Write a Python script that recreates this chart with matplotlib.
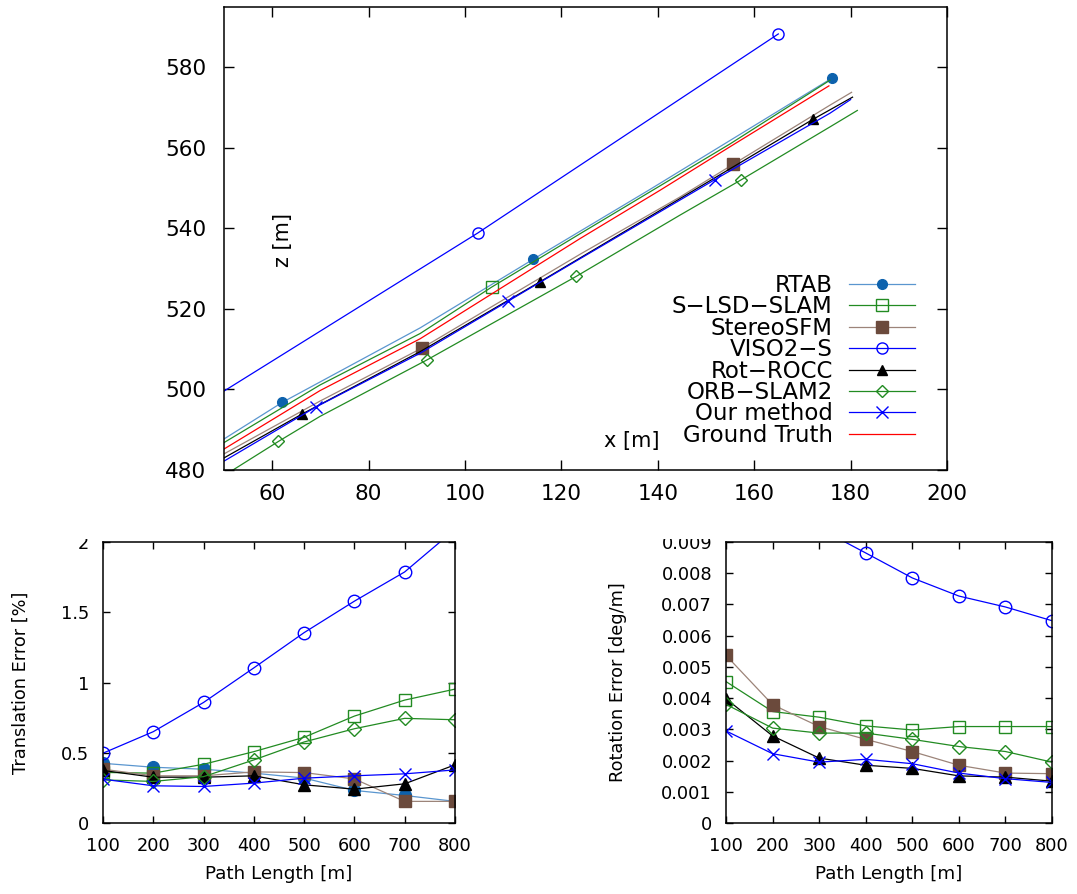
import matplotlib
matplotlib.use("Agg")
from matplotlib import pyplot as plt
from matplotlib.transforms import Bbox, TransformedBbox


FIGURE_SIZE = [10.77, 8.94]
DPI = 100
FONT = "DejaVu Sans"
LINE_WIDTH = 0.9
CLIP_TOP_PX = 539  # bottom panels look cropped just above their frame


# Data #########################################################################

LABELS = ["RTAB", "S−LSD−SLAM", "StereoSFM", "VISO2−S",
          "Rot−ROCC", "ORB−SLAM2", "Our method", "Ground Truth"]

# trajectories (top view), x [m] / z [m]
RTAB_X = [50, 62.1, 90.7, 114.1, 138.4, 176.1]
RTAB_Z = [487.7, 496.8, 515.3, 532.3, 549.7, 577.3]
SLSD_X = [50, 69.9, 90.7, 105.5, 123.9, 155.0, 175.7]
SLSD_Z = [486.8, 501.1, 513.9, 525.4, 538.7, 561.0, 576.8]
SSFM_X = [50, 69.9, 91.1, 123.9, 144.6, 155.6, 175.7, 180.2]
SSFM_Z = [484.0, 497.1, 510.3, 533.6, 547.8, 555.9, 570.6, 573.8]
VISO_X = [50, 102.7, 165.0]
VISO_Z = [499.6, 538.9, 588.3]
ROCC_X = [50, 66.2, 90.7, 115.5, 144.6, 172.2, 180.4]
ROCC_Z = [483.0, 493.9, 509.4, 526.7, 547.4, 567.1, 572.6]
ORB_X = [50, 61.3, 69.9, 92.2, 123.1, 144.6, 157.2, 175.7, 181.4]
ORB_Z = [478.6, 487.1, 493.3, 507.4, 528.1, 543.3, 552.0, 565.2, 569.3]
OURS_X = [50, 69.0, 90.7, 108.9, 123.9, 151.8, 175.7, 180.0]
OURS_Z = [482.2, 495.6, 509.0, 521.9, 532.5, 552.1, 568.6, 572.0]
GT_X = [50, 69.9, 90.7, 123.9, 140.5, 155.0, 175.5]
GT_Z = [485.2, 499.7, 512.6, 537.5, 549.5, 560.3, 575.4]

# errors over path length
PATH_LENGTH = [100, 200, 300, 400, 500, 600, 700, 800]

TRANS_RTAB = [0.425, 0.397, 0.383, 0.355, 0.320, 0.232, 0.196, 0.154]
TRANS_SLSD = [0.360, 0.355, 0.418, 0.508, 0.610, 0.761, 0.875, 0.953]
TRANS_SSFM = [0.383, 0.336, 0.336, 0.364, 0.359, 0.314, 0.154, 0.154]
TRANS_VISO = [0.497, 0.650, 0.858, 1.104, 1.355, 1.579, 1.787, 2.090]
TRANS_ROCC = [0.374, 0.326, 0.326, 0.336, 0.272, 0.241, 0.279, 0.414]
TRANS_ORB = [0.307, 0.296, 0.330, 0.449, 0.577, 0.671, 0.745, 0.735]
TRANS_OURS = [0.312, 0.265, 0.260, 0.284, 0.319, 0.336, 0.350, 0.378]

ROT_SLSD = [0.00453, 0.00357, 0.00339, 0.00311, 0.00298, 0.00309, 0.00309, 0.00309]
ROT_SSFM = [0.00537, 0.00379, 0.00309, 0.00268, 0.00229, 0.00185, 0.00160, 0.00158]
ROT_VISO = [0.0120, 0.0105, 0.00944, 0.00865, 0.00785, 0.00727, 0.00692, 0.00648]
ROT_ROCC = [0.00398, 0.00279, 0.00208, 0.00185, 0.00175, 0.00151, 0.00147, 0.00134]
ROT_ORB = [0.00380, 0.00304, 0.00288, 0.00288, 0.00268, 0.00245, 0.00229, 0.00195]
ROT_OURS = [0.00295, 0.00222, 0.00195, 0.00204, 0.00190, 0.00160, 0.00142, 0.00130]


# Styles #######################################################################

# label: (line color, marker, marker face, marker edge, top size, bottom size)
STYLES = {
    "RTAB":         ("#5a96cf", "o", "#0d62ad", "#0d62ad", 7, 8.5),
    "S−LSD−SLAM":   ("#228b22", "s", "none", "#228b22", 8, 8.5),
    "StereoSFM":    ("#9c8479", "s", "#6b4a3c", "#6b4a3c", 8, 9),
    "VISO2−S":      ("#0000ff", "o", "none", "#0000ff", 8, 9),
    "Rot−ROCC":     ("#000000", "^", "#000000", "#000000", 7, 8),
    "ORB−SLAM2":    ("#228b22", "D", "none", "#228b22", 6, 7),
    "Our method":   ("#0000ff", "x", "#0000ff", "#0000ff", 9, 9),
    "Ground Truth": ("#ff0000", "", "none", "#ff0000", 0, 0),
}

TRAJ_MARKED = {
    "RTAB": [1, 3, 5], "S−LSD−SLAM": [3], "StereoSFM": [2, 5],
    "VISO2−S": [1, 2], "Rot−ROCC": [1, 3, 5], "ORB−SLAM2": [1, 3, 4, 6],
    "Our method": [1, 3, 5], "Ground Truth": [],
}


# Plotting #####################################################################


def _plot(ax, label, x, y, size, markevery=None):
    """ Plot one series with its gnuplot-like style. """
    lc, mk, mfc, mec, ms_top, ms_bot = STYLES[label]
    ms = ms_top if size == "top" else ms_bot
    ax.plot(x, y, color=lc, lw=LINE_WIDTH, marker=mk, ms=ms,
            mfc=mfc, mec=mec, mew=1.0, markevery=markevery, label=label)


def _style_axes(ax, labelsize, pad, length):
    for s in ax.spines.values():
        s.set_linewidth(1.1)
    ax.tick_params(direction="in", top=True, right=True, labelsize=labelsize,
                   pad=pad, length=length, width=1.0)


def plot_trajectories(ax):
    series = [("RTAB", RTAB_X, RTAB_Z), ("S−LSD−SLAM", SLSD_X, SLSD_Z),
              ("StereoSFM", SSFM_X, SSFM_Z), ("VISO2−S", VISO_X, VISO_Z),
              ("Rot−ROCC", ROCC_X, ROCC_Z), ("ORB−SLAM2", ORB_X, ORB_Z),
              ("Our method", OURS_X, OURS_Z), ("Ground Truth", GT_X, GT_Z)]
    for label, x, z in series:
        _plot(ax, label, x, z, "top", markevery=TRAJ_MARKED[label] or None)

    ax.set_xlim(50, 200)
    ax.set_ylim(480, 595)
    ax.set_xticks(range(60, 201, 20))
    ax.set_yticks(range(480, 581, 20))
    _style_axes(ax, 15.5, 10, 7)
    ax.tick_params(axis="y", pad=13)

    ax.set_xlabel("x [m]", fontsize=15)
    ax.xaxis.set_label_coords(0.564, 0.085)
    ax.set_ylabel("z [m]", fontsize=15)
    ax.yaxis.set_label_coords(0.096, 0.497)

    ax.legend(loc="lower right", bbox_to_anchor=(0.956, 0.05), frameon=False,
              markerfirst=False, fontsize=16.5, handlelength=2.9,
              handletextpad=0.7, labelspacing=-0.07, borderpad=0,
              borderaxespad=0)


def plot_errors(ax, series, ylim, yticks, ylabel, ylabel_x):
    for label, vals in series:
        _plot(ax, label, PATH_LENGTH, vals, "bottom")
    ax.set_xlim(100, 800)
    ax.set_ylim(*ylim)
    ax.set_xticks(PATH_LENGTH)
    ax.set_yticks(yticks)
    ax.set_yticklabels(["{:g}".format(t) for t in yticks])
    _style_axes(ax, 12.8, 10, 5)
    ax.set_xlabel("Path Length [m]", fontsize=13.2, labelpad=7)
    ax.set_ylabel(ylabel, fontsize=12.8)
    ax.yaxis.set_label_coords(ylabel_x, 0.5)


def _clip_top_labels(fig, ax):
    """ Hide the part of the y tick labels above the cropped panel top. """
    top = 1 - CLIP_TOP_PX / (FIGURE_SIZE[1] * DPI)
    box = TransformedBbox(Bbox([[0, 0], [1, top]]), fig.transFigure)
    for lab in ax.get_yticklabels():
        lab.set_clip_box(box)
        lab.set_clip_on(True)


def main():
    plt.rcParams["font.family"] = [FONT]
    fig = plt.figure(figsize=FIGURE_SIZE, dpi=DPI)

    ax_top = fig.add_axes([0.208, 0.4743, 0.6713, 0.5179])
    plot_trajectories(ax_top)

    ax_trans = fig.add_axes([0.0956, 0.0794, 0.3268, 0.3143])
    plot_errors(ax_trans,
                [("RTAB", TRANS_RTAB), ("S−LSD−SLAM", TRANS_SLSD),
                 ("StereoSFM", TRANS_SSFM), ("VISO2−S", TRANS_VISO),
                 ("Rot−ROCC", TRANS_ROCC), ("ORB−SLAM2", TRANS_ORB),
                 ("Our method", TRANS_OURS)],
                (0, 2), [0, 0.5, 1, 1.5, 2], "Translation Error [%]", -0.207)

    ax_rot = fig.add_axes([0.6741, 0.0794, 0.3027, 0.3143])
    plot_errors(ax_rot,
                [("S−LSD−SLAM", ROT_SLSD), ("StereoSFM", ROT_SSFM),
                 ("VISO2−S", ROT_VISO), ("Rot−ROCC", ROT_ROCC),
                 ("ORB−SLAM2", ROT_ORB), ("Our method", ROT_OURS)],
                (0, 0.009), [i * 0.001 for i in range(10)],
                "Rotation Error [deg/m]", -0.304)

    _clip_top_labels(fig, ax_trans)
    _clip_top_labels(fig, ax_rot)

    fig.savefig("out.png", dpi=DPI)


if __name__ == '__main__':
    main()
